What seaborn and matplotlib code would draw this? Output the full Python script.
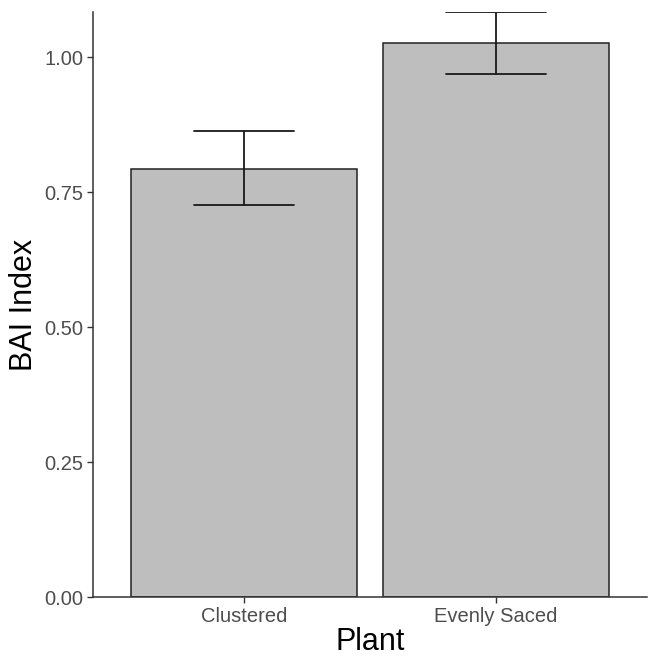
import matplotlib
matplotlib.use("Agg")
import matplotlib.pyplot as plt
import seaborn as sns
import pandas as pd

# values
plants = ["Clustered", "Evenly Saced"]
bai_mean = [0.793, 1.026]
bai_low = [0.726, 0.969]
bai_high = [0.864, 1.083]

df = pd.DataFrame({"Plant": plants, "BAI": bai_mean})

sns.set_style("white")
plt.rcParams["font.family"] = ["Liberation Sans", "DejaVu Sans"]

fig = plt.figure(figsize=(6.48, 6.56), dpi=100)
ax = fig.add_axes([0.1435, 0.0899, 0.855, 0.8918])

sns.barplot(data=df, x="Plant", y="BAI", color="#BEBEBE", saturation=1,
            width=0.9, edgecolor="#222222", linewidth=1.1, errorbar=None, ax=ax)

# error bars
xs = range(len(plants))
for x, lo, hi in zip(xs, bai_low, bai_high):
    ax.plot([x, x], [lo, hi], color="#1a1a1a", lw=1.3)
    ax.plot([x - 0.2, x + 0.2], [lo, lo], color="#1a1a1a", lw=1.3)
    ax.plot([x - 0.2, x + 0.2], [hi, hi], color="#1a1a1a", lw=1.3)

ax.set_xlim(-0.6, 1.6)
ax.set_ylim(0, 1.0835)
ax.set_yticks([0, 0.25, 0.5, 0.75, 1.0])
ax.set_yticklabels(["0.00", "0.25", "0.50", "0.75", "1.00"])

for side in ["top", "right"]:
    ax.spines[side].set_visible(False)
for side in ["left", "bottom"]:
    ax.spines[side].set_color("#333333")
    ax.spines[side].set_linewidth(1.1)

ax.tick_params(axis="both", length=4, width=1.0, color="#333333",
               labelcolor="#4D4D4D", labelsize=14.5, pad=3, left=True, bottom=True)
ax.set_xlabel("Plant", fontsize=22, color="black", labelpad=1)
ax.set_ylabel("BAI Index", fontsize=22, color="black", labelpad=4)

fig.savefig("out.png", dpi=100)
